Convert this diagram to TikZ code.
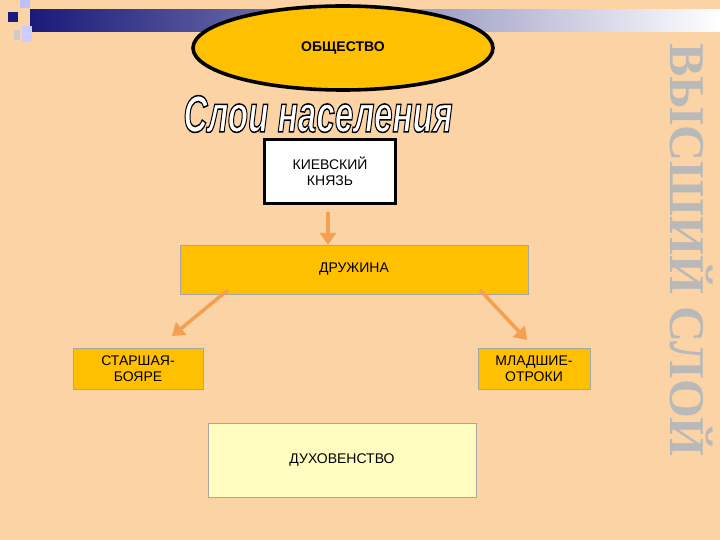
\documentclass[tikz,border=0pt]{standalone}
\usepackage{fontspec}
\setmainfont{Liberation Sans}
\newfontfamily\serifb{Liberation Serif}
\usetikzlibrary{shapes.geometric,arrows.meta}
\definecolor{bg}{HTML}{FBD3A4}
\definecolor{gold}{HTML}{FFC000}
\definecolor{arr}{HTML}{F4A050}
\definecolor{navy}{HTML}{1A1A7A}
\tikzset{
 box/.style={draw=gray!70, fill=gold, align=center, font=\fontsize{14}{16}\selectfont, inner sep=0},
 conn/.style={draw=arr, line width=3.5pt, -{Triangle[length=12pt,width=16pt]}}
}
\begin{document}
\begin{tikzpicture}[x=1pt,y=-1pt]
\fill[bg] (0,0) rectangle (720,540);
\useasboundingbox (0,0) rectangle (720,540);
% top bar
\shade[left color=navy, right color=white] (30,10) rectangle (720,32);
\fill[navy] (8,12) rectangle (18,22);
\fill[blue!25!white] (20,0) rectangle (30,8);
\fill[blue!20!white] (22,26) rectangle (32,42);
\fill[gray!40] (14,30) rectangle (20,40);
% ellipse
\node[ellipse, draw, line width=1.2pt, double=black, double distance=1.2pt, fill=gold, minimum width=300pt, minimum height=84pt, font=\bfseries\fontsize{14}{16}\selectfont] (obs) at (343,48) {ОБЩЕСТВО};
% title
\node[font=\bfseries\itshape\fontsize{52}{52}\selectfont, text=white, xscale=0.64] (title) at (318,114) {\special{pdf:code 2 Tr 1.5 w 0 G}Слои населения\special{pdf:code 0 Tr}};
% boxes
\node[box, draw=black, line width=3pt, fill=white, minimum width=131pt, minimum height=64pt] (k) at (330,171.5) {КИЕВСКИЙ\\КНЯЗЬ};
\node[box, minimum width=348pt, minimum height=49pt] (d) at (354,269.5) {ДРУЖИНА};
\node[box, minimum width=130pt, minimum height=41pt] (s) at (138,368.5) {СТАРШАЯ-\\БОЯРЕ};
\node[box, minimum width=112pt, minimum height=41pt] (m) at (534,368.5) {МЛАДШИЕ-\\ОТРОКИ};
\node[box, fill=yellow!25!white, minimum width=268pt, minimum height=74pt] (u) at (342,460) {ДУХОВЕНСТВО};
% connectors
\coordinate (a1) at (328,212);
\draw[conn] (a1) -- (d.north -| a1);
\coordinate (a2) at (228,290);
\coordinate (a3) at (480,290);
\draw[conn] (a2) -- (172,336);
\draw[conn] (a3) -- (527,340);
% vertical text
\node[rotate=-90, font=\serifb\bfseries\fontsize{50}{50}\selectfont, text=gray!55] (vt) at (692,250) {ВЫСШИЙ СЛОЙ};
\end{tikzpicture}
\end{document}
